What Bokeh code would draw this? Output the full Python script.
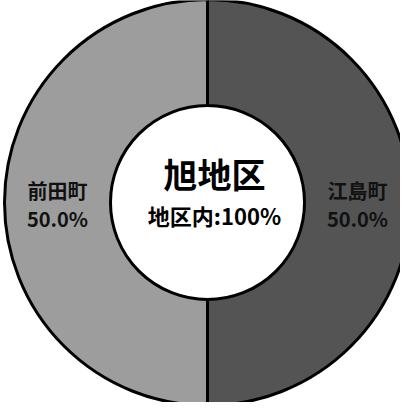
import math
from bokeh.plotting import figure
from bokeh.models import ColumnDataSource, Range1d
from bokeh.core.properties import value
from bokeh.embed import file_html
from bokeh.resources import INLINE

# data
categories = ["江島町", "前田町"]
shares = [50.0, 50.0]
center_title = "旭地区"
center_sub = "地区内:100%"

colors = ["#545454", "#9d9d9d"]

W, H = 400, 402
cx, cy = 207, 200
r_in, r_out = 97, 203

total = sum(shares)
starts, ends, mids = [], [], []
acc = 0.0
for s in shares:
    a0 = math.pi / 2 - acc / total * 2 * math.pi
    acc += s
    a1 = math.pi / 2 - acc / total * 2 * math.pi
    starts.append(a0)
    ends.append(a1)
    mids.append((a0 + a1) / 2)

r_mid = (r_in + r_out) / 2
lx = [cx + r_mid * math.cos(m) for m in mids]
ly = [cy + r_mid * math.sin(m) for m in mids]

src = ColumnDataSource(dict(
    cat=categories,
    pct=[f"{s:.1f}%" for s in shares],
    start=starts, end=ends, color=colors,
    x=[cx] * len(shares), y=[cy] * len(shares),
    lx=lx, ly=ly,
))

p = figure(width=W, height=H, output_backend="svg", toolbar_location=None,
           x_range=Range1d(0, W), y_range=Range1d(0, H), min_border=0,
           outline_line_color=None)
p.axis.visible = False
p.grid.visible = False
p.background_fill_color = "white"
p.border_fill_color = "white"

p.annular_wedge(x="x", y="y", inner_radius=r_in, outer_radius=r_out,
                start_angle="start", end_angle="end", direction="clock",
                fill_color="color", line_color="black", line_width=3,
                source=src)

font = value("Noto Sans CJK JP")
p.text(x="lx", y="ly", text="cat", source=src, text_font=font,
       text_font_size="20px", text_font_style="bold", text_color="#111111",
       text_align="center", text_baseline="middle", y_offset=-12)
p.text(x="lx", y="ly", text="pct", source=src, text_font=font,
       text_font_size="20px", text_font_style="bold", text_color="#111111",
       text_align="center", text_baseline="middle", y_offset=16)

p.text(x=[cx], y=[cy], text=[center_title], text_font=font,
       text_font_size="34px", text_font_style="bold", text_color="black",
       text_align="center", text_baseline="middle", x_offset=7, y_offset=-29)
p.text(x=[cx], y=[cy], text=[center_sub], text_font=font,
       text_font_size="22px", text_font_style="bold", text_color="black",
       text_align="center", text_baseline="middle", x_offset=7, y_offset=12)

open("out.html", "w").write(file_html(p, INLINE))
